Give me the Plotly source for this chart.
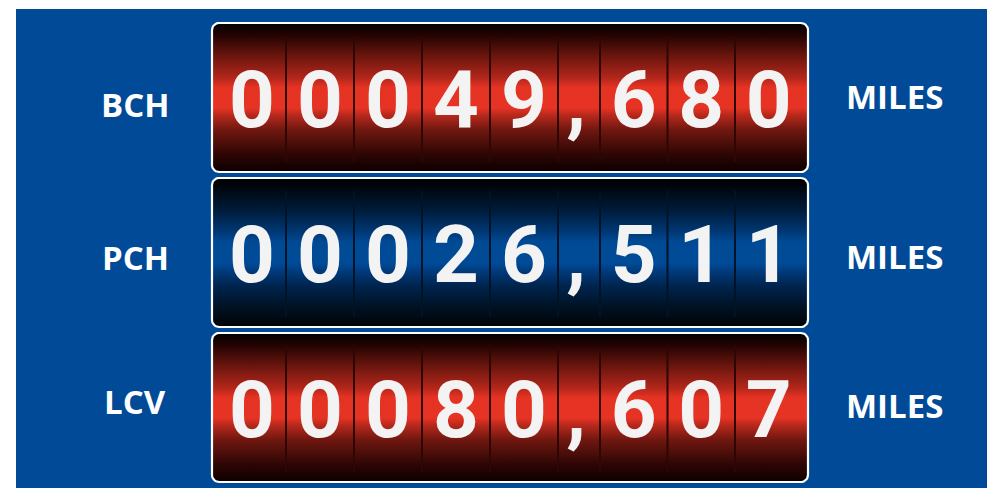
import numpy as np
import plotly.graph_objects as go

# odometer readings
labels = ["BCH", "PCH", "LCV"]
miles = [49680, 26511, 80607]
themes = ["red", "blue", "red"]
unit = "MILES"

W, H = 995, 488
OFF = 8  # page body margin
BG = "#014A97"

GRADIENTS = {
    "red": [
        [0.00, "#0c0000"], [0.12, "#2e0604"], [0.28, "#6e1710"],
        [0.38, "#b6281c"], [0.43, "#e63324"], [0.57, "#e43223"],
        [0.63, "#b3271b"], [0.78, "#6a150e"], [0.92, "#220302"], [1.00, "#000000"],
    ],
    "blue": [
        [0.00, "#000409"], [0.12, "#00101f"], [0.28, "#002550"],
        [0.38, "#003c7e"], [0.43, "#004b97"], [0.57, "#004a95"],
        [0.63, "#003a78"], [0.78, "#001c3c"], [0.92, "#000812"], [1.00, "#000000"],
    ],
}
DIVIDER = {"red": "#2e0604", "blue": "#001428"}

# panel geometry (pixels)
PX0, PX1 = 212, 808
PTOP, PH, PGAP = 23, 149, 6
SLOT0, DIGIT_W, COMMA_W = 218, 68, 42
LABEL_DY = [7, 5, -6]
UNIT_DY = [-1, 4, -2]


def rounded_rect(x0, y0, x1, y1, r, n=8):
    xs, ys = [], []
    corners = [(x1 - r, y0 + r, -90, 0), (x1 - r, y1 - r, 0, 90),
               (x0 + r, y1 - r, 90, 180), (x0 + r, y0 + r, 180, 270)]
    for cx, cy, a0, a1 in corners:
        for a in np.linspace(np.radians(a0), np.radians(a1), n):
            xs.append(cx + r * np.cos(a))
            ys.append(cy + r * np.sin(a))
    xs.append(xs[0])
    ys.append(ys[0])
    return xs, ys


def slots():
    # 5 digits, comma, 3 digits -> (left, right) of each slot
    edges, x = [], SLOT0
    for i in range(9):
        w = COMMA_W if i == 5 else (DIGIT_W if i < 5 else 67.5)
        edges.append((x, x + w))
        x += w
    return edges


fig = go.Figure()
shapes = [dict(type="rect", x0=16, x1=W, y0=9, y1=H, fillcolor=BG,
               line_width=0, layer="below")]
annotations = []

for i, (lab, val, th) in enumerate(zip(labels, miles, themes)):
    y0 = PTOP + i * (PH + PGAP)
    y1 = y0 + PH
    yc = (y0 + y1) / 2
    xs, ys = rounded_rect(PX0, y0, PX1, y1, 7)
    fig.add_trace(go.Scatter(
        x=xs, y=ys, mode="lines", fill="toself",
        fillgradient=dict(type="vertical", colorscale=GRADIENTS[th]),
        line=dict(color="white", width=2.2), hoverinfo="skip",
    ))
    s = f"{val:08d}"
    chars = list(s[:5] + "," + s[5:])
    edges = slots()
    for l, r in edges[1:]:
        shapes.append(dict(type="line", x0=l, x1=l, y0=y0 + 13, y1=y1 - 10,
                           line=dict(color=DIVIDER[th], width=2)))
    fig.add_trace(go.Scatter(
        x=[(l + r) / 2 - (3 if c == "," else 0) for (l, r), c in zip(edges, chars)],
        y=[yc + 9] * len(chars), mode="text", text=chars,
        textposition="middle center",
        textfont=dict(family="Roboto", size=80, color="#f3f3f3", weight="bold"),
        hoverinfo="skip",
    ))
    annotations.append(dict(x=135, y=yc + LABEL_DY[i], text=f"<b>{lab}</b>",
                            showarrow=False, xanchor="center", yanchor="middle",
                            font=dict(family="Open Sans", size=33, color="white")))
    annotations.append(dict(x=894, y=yc + UNIT_DY[i], text=f"<b>{unit}</b>",
                            showarrow=False, xanchor="center", yanchor="middle",
                            font=dict(family="Open Sans", size=33, color="white")))

fig.update_layout(
    width=W - OFF, height=H - OFF,
    margin=dict(l=0, r=0, t=0, b=0),
    paper_bgcolor="white", plot_bgcolor="white",
    showlegend=False,
    xaxis=dict(range=[OFF, W], visible=False, fixedrange=True),
    yaxis=dict(range=[H, OFF], visible=False, fixedrange=True),
    shapes=shapes, annotations=annotations,
)
fig.write_html("out.html")
